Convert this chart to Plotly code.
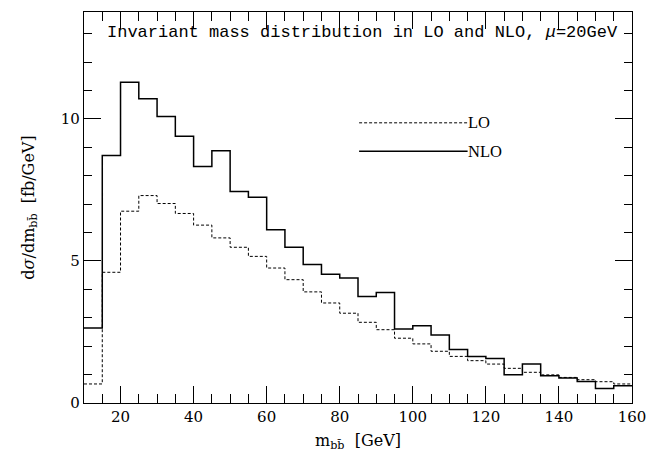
import plotly.graph_objects as go

bin_edges = list(range(10, 165, 5))
lo_values = [0.67, 4.60, 6.75, 7.30, 7.02, 6.67, 6.26, 5.81, 5.48, 5.16,
             4.75, 4.34, 3.91, 3.52, 3.16, 2.84, 2.58, 2.28, 2.08, 1.82,
             1.64, 1.49, 1.37, 1.22, 1.08, 0.99, 0.90, 0.82, 0.75, 0.67]
nlo_values = [2.64, 8.71, 11.29, 10.71, 10.08, 9.39, 8.32, 8.88, 7.44, 7.24,
              6.10, 5.48, 4.87, 4.53, 4.40, 3.75, 3.89, 2.60, 2.72, 2.39,
              1.88, 1.64, 1.57, 0.99, 1.37, 0.96, 0.88, 0.76, 0.51, 0.61]
x_ticks = [20, 40, 60, 80, 100, 120, 140, 160]
y_ticks = [0, 5, 10]

FONT = "DejaVu Serif"
TFONT = "Liberation Mono"
LFONT = "Liberation Serif"
DASH = "3px,2px"
SP = "\u00a0\u00a0"

def step(vals):
    return bin_edges, vals + [vals[-1]]

fig = go.Figure()
xs, ys = step(lo_values)
fig.add_trace(go.Scatter(x=xs, y=ys, mode="lines", line=dict(shape="hv", color="black", width=1, dash=DASH), name="LO"))
xs, ys = step(nlo_values)
fig.add_trace(go.Scatter(x=xs, y=ys, mode="lines", line=dict(shape="hv", color="black", width=1.5), name="NLO"))

fig.add_shape(type="line", x0=85.3, x1=115, y0=9.86, y1=9.86, line=dict(color="black", width=1, dash=DASH))
fig.add_shape(type="line", x0=85.3, x1=115, y0=8.86, y1=8.86, line=dict(color="black", width=1.5))
fig.add_annotation(x=115, y=9.86, text="LO", showarrow=False, xanchor="left", yanchor="middle", xshift=-2, font=dict(family=LFONT, size=16.5, color="black"))
fig.add_annotation(x=115, y=8.86, text="NLO", showarrow=False, xanchor="left", yanchor="middle", xshift=-2, font=dict(family=LFONT, size=16.5, color="black"))

fig.add_annotation(xref="paper", yref="paper", x=0.509, y=0.948, xanchor="center", yanchor="middle",
                   text="Invariant mass distribution in LO and NLO, <i>μ</i>=20GeV",
                   showarrow=False, font=dict(family=TFONT, size=17, color="black"))

axis_common = dict(showgrid=False, zeroline=False, showline=True, linecolor="black", linewidth=1.2,
                   mirror="ticks", ticks="inside", tickcolor="black", tickwidth=1,
                   ticklabeloverflow="allow", automargin=False,
                   tickfont=dict(family=FONT, size=15, color="black"))

fig.update_xaxes(range=[10, 160], tickvals=x_ticks, ticklen=17,
                 minor=dict(dtick=5, tick0=0, ticklen=9, ticks="inside", tickcolor="black"),
                 title=dict(text="m<sub>bb\u0304</sub>" + SP + "[GeV]", font=dict(family=FONT, size=16, color="black"), standoff=9),
                 **axis_common)
fig.update_yaxes(range=[0, 13.76], tickvals=y_ticks, ticklen=17,
                 minor=dict(dtick=1, tick0=0, ticklen=8, ticks="inside", tickcolor="black"),
                 title=dict(text="d<i>σ</i>/dm<sub>bb\u0304</sub>" + SP + "[fb/GeV]", font=dict(family=FONT, size=16, color="black"), standoff=22),
                 **axis_common)

fig.update_layout(width=649, height=455, margin=dict(l=84, r=17, t=12, b=52),
                  plot_bgcolor="white", paper_bgcolor="white", showlegend=False)

fig.write_html("out.html", config={"displayModeBar": False},
               post_script="document.body.style.margin='0';document.body.style.overflow='hidden';")
